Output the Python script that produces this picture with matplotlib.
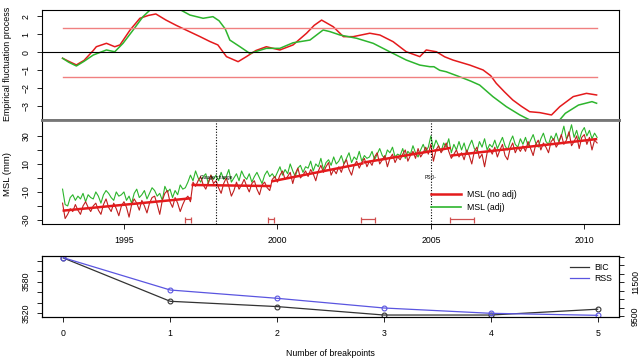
import numpy as np
import matplotlib.pyplot as plt

plt.rcParams['font.family'] = ['Liberation Sans', 'DejaVu Sans']
plt.rcParams['font.size'] = 6.3

# ---- top panel: empirical fluctuation processes ----
efp_noadj_t = [1993.0, 1993.2, 1993.45, 1993.7, 1994.0, 1994.1, 1994.43, 1994.7, 1994.87,
               1995.2, 1995.52, 1995.8, 1996.04, 1996.37, 1996.7, 1997.02, 1997.48, 1997.8,
               1998.06, 1998.34, 1998.72, 1998.99, 1999.3, 1999.64, 2000.08, 2000.51, 2000.95,
               2001.2, 2001.44, 2001.82, 2002.15, 2002.47, 2003.01, 2003.34, 2003.77, 2004.2,
               2004.64, 2004.85, 2005.18, 2005.45, 2005.72, 2006.27, 2006.7, 2006.95, 2007.13,
               2007.4, 2007.67, 2007.95, 2008.22, 2008.55, 2008.93, 2009.2, 2009.64, 2010.07, 2010.4]
efp_noadj_v = [-0.33, -0.5, -0.70, -0.45, 0.1, 0.31, 0.5, 0.31, 0.41,
               1.24, 1.89, 2.05, 2.13, 1.79, 1.5, 1.24, 0.87, 0.6,
               0.41, -0.24, -0.52, -0.24, 0.1, 0.31, 0.13, 0.41, 1.06,
               1.5, 1.79, 1.42, 0.87, 0.87, 1.06, 0.96, 0.59, 0.03,
               -0.24, 0.13, 0.03, -0.25, -0.43, -0.71, -0.98, -1.3, -1.72,
               -2.2, -2.65, -3.0, -3.3, -3.35, -3.48, -3.02, -2.46, -2.28, -2.37]

efp_adj_t = [1993.0, 1993.2, 1993.45, 1993.7, 1994.0, 1994.43, 1994.7, 1994.97, 1995.3,
             1995.62, 1995.85, 1996.1, 1996.4, 1996.7, 1996.85, 1997.15, 1997.58, 1997.9,
             1998.1, 1998.3, 1998.45, 1998.78, 1999.1, 1999.64, 2000.08, 2000.51, 2001.06,
             2001.49, 2001.71, 2002.04, 2002.58, 2003.12, 2003.66, 2004.2, 2004.64, 2004.97,
             2005.1, 2005.29, 2005.5, 2005.94, 2006.3, 2006.59, 2007.02, 2007.46, 2007.9,
             2008.12, 2008.4, 2008.8, 2009.15, 2009.38, 2009.81, 2010.25, 2010.4]
efp_adj_v = [-0.33, -0.55, -0.76, -0.5, -0.15, 0.13, 0.03, 0.5, 1.24,
             1.98, 2.35, 2.5, 2.6, 2.45, 2.35, 2.07, 1.89, 1.98,
             1.75, 1.3, 0.68, 0.31, -0.06, 0.22, 0.22, 0.53, 0.68,
             1.24, 1.15, 0.96, 0.78, 0.5, 0.03, -0.43, -0.71, -0.8,
             -0.8, -1.0, -1.08, -1.36, -1.6, -1.82, -2.46, -3.02, -3.48,
             -3.67, -3.9, -3.95, -3.85, -3.39, -2.93, -2.74, -2.83]

boundary = 1.358

# ---- middle panel: monthly MSL (mm), starting Jan 1993 ----
start_year = 1993.0
msl_noadj = [
    -18, -29, -26, -22, -24, -19, -23, -26, -20, -17, -21, -24,   # 1993
    -20, -18, -23, -26, -19, -15, -21, -24, -18, -22, -27, -20,   # 1994
    -17, -21, -28, -19, -15, -18, -23, -16, -20, -25, -18, -14,   # 1995
    -13, -19, -26, -16, -11, -9, -17, -21, -14, -18, -24, -19,    # 1996
    -15, -13, -17, -3, -6, -2, 1, -5, -8, -3, 2, -4,              # 1997
    -2, -7, -11, -4, 0, -6, -13, -9, -3, -8, -5, -1,              # 1998
    -6, -10, -4, -2, -8, -12, -5, -3, -7, -9, -1, 1,              # 1999
    -3, 2, 5, -1, 1, 4, -4, 3, 7, 0, 2, 5,                        # 2000
    1, 6, 3, -2, 5, 9, 4, 8, 11, 2, 6, 3,                         # 2001
    8, 4, 10, 13, 6, 2, 9, 12, 7, 11, 14, 8,                      # 2002
    12, 9, 15, 18, 10, 13, 16, 8, 14, 17, 11, 15,                 # 2003
    13, 17, 20, 12, 16, 19, 14, 21, 15, 18, 22, 17,               # 2004
    24, 12, 20, 23, 18, 21, 25, 19, 14, 17, 20, 15,               # 2005
    18, 13, 20, 16, 10, 19, 22, 14, 17, 8, 18, 21,                # 2006
    17, 22, 15, 20, 24, 16, 13, 21, 25, 18, 22, 19,               # 2007
    23, 19, 26, 21, 16, 24, 27, 20, 25, 22, 18, 26,               # 2008
    28, 22, 25, 31, 24, 27, 33, 23, 26, 30, 21, 29,               # 2009
    31, 24, 29, 20, 27, 25,                                       # 2010
]
msl_adj = [
    -8, -19, -20, -14, -12, -16, -13, -15, -11, -17, -12, -14,    # 1993
    -15, -10, -13, -18, -12, -9, -11, -14, -16, -10, -13, -12,    # 1994
    -10, -16, -13, -18, -11, -8, -14, -12, -9, -15, -11, -7,      # 1995
    -9, -13, -11, -16, -6, -10, -8, -14, -9, -12, -5, -8,         # 1996
    -7, -3, 2, -2, 5, 0, -3, 1, 3, -4, 2, -1,                     # 1997
    2, -2, 4, -1, 1, 6, -3, 0, 3, -2, 5, 1,                       # 1998
    -1, 3, -3, 1, 4, 0, -4, 2, 5, 1, 3, 0,                        # 1999
    4, 8, 2, 6, 3, 10, 5, 1, 7, 9, 4, 8,                          # 2000
    7, 12, 5, 10, 8, 14, 6, 11, 13, 9, 15, 10,                    # 2001
    12, 16, 10, 14, 18, 11, 15, 13, 19, 12, 16, 14,               # 2002
    15, 19, 13, 17, 21, 16, 14, 20, 18, 22, 15, 17,               # 2003
    16, 21, 14, 19, 17, 23, 18, 15, 20, 24, 19, 22,               # 2004
    30, 21, 27, 23, 19, 25, 22, 28, 18, 24, 20, 26,               # 2005
    20, 25, 18, 23, 27, 21, 19, 26, 22, 28, 20, 24,               # 2006
    22, 27, 21, 25, 29, 23, 20, 26, 30, 24, 22, 28,               # 2007
    24, 29, 23, 27, 31, 25, 22, 28, 32, 26, 24, 30,               # 2008
    27, 32, 26, 30, 37, 28, 31, 38, 29, 34, 27, 33,               # 2009
    36, 30, 34, 28, 32, 29,                                       # 2010
]

# fitted segments (start year, end year, start value, end value)
fit_start = [1993.0, 1997.2, 1999.8, 2002.8, 2005.65]
fit_end = [1997.2, 1999.8, 2002.8, 2005.65, 2010.42]
fit_from = [-23.4, -5.0, -2.5, 11.0, 16.0]
fit_to = [-14.5, -5.8, 10.5, 21.5, 27.8]

# breakpoint confidence intervals
ci_lower = [1997.0, 1999.7, 2002.72, 2005.63]
ci_upper = [1997.2, 1999.9, 2003.18, 2006.4]
ci_level = -29.6

events = [1998.0, 2005.0]
event_labels = ['Gauge change', 'PSO-']

# ---- bottom panel: model selection ----
n_breaks = [0, 1, 2, 3, 4, 5]
bic = [3625, 3543, 3533, 3517, 3517, 3528]
rss = [12958, 11042, 10550, 9975, 9660, 9540]

RED = '#e41a1c'
DARKRED = '#c01e1e'
GREEN = '#2db52d'
BLUE = '#5a55e0'
GRAY = '#777777'
CI_RED = '#d05050'

fig = plt.figure(figsize=(6.4, 3.6), dpi=100)
L, W = 42 / 640, 577 / 640
ax1 = fig.add_axes([L, 1 - 120 / 360, W, 110 / 360])
ax2 = fig.add_axes([L, 1 - 224 / 360, W, 104 / 360])
ax3 = fig.add_axes([L, 1 - 317.3 / 360, W, 61.6 / 360])

xlim = (1992.33, 2011.13)

# top
ax1.plot(efp_noadj_t, efp_noadj_v, color=RED, lw=1.1)
ax1.plot(efp_adj_t, efp_adj_v, color=GREEN, lw=1.1)
ax1.plot([efp_noadj_t[0], efp_noadj_t[-1]], [boundary, boundary], color='#f08080', lw=1.0)
ax1.plot([efp_noadj_t[0], efp_noadj_t[-1]], [-boundary, -boundary], color='#f08080', lw=1.0)
ax1.axhline(0, color='black', lw=0.8)
ax1.set_xlim(xlim)
ax1.set_ylim(-3.76, 2.35)
ax1.set_yticks([-3, -2, -1, 0, 1, 2])
ax1.set_xticks([])
ax1.spines['bottom'].set_color(GRAY)
ax1.spines['bottom'].set_linewidth(2)

# middle
msl_t = start_year + np.arange(len(msl_noadj)) / 12
ax2.plot(msl_t, msl_adj, color=GREEN, lw=0.8)
ax2.plot(msl_t, msl_noadj, color=DARKRED, lw=0.8)
for s, e, a, b in zip(fit_start, fit_end, fit_from, fit_to):
    ax2.plot([s, e], [a, b], color=RED, lw=1.8, solid_capstyle='butt')
ax2.hlines([ci_level] * len(ci_lower), ci_lower, ci_upper, color=CI_RED, lw=0.9)
ax2.vlines(ci_lower + ci_upper, ci_level - 2.5, ci_level + 1.5, color=CI_RED, lw=0.9)
for ev, lab in zip(events, event_labels):
    ax2.axvline(ev, color='black', lw=0.8, ls=(0, (1, 1.5)))
    ax2.text(ev, 0.5, lab, fontsize=3.5, ha='center', va='center')
ax2.set_xlim(xlim)
ax2.set_ylim(-32.9, 41.4)
ax2.set_yticks([-30, -20, -10, 0, 10, 20, 30])
ax2.set_yticklabels(['-30', '', '-10', '', '10', '', '30'])
ax2.set_xticks([1995, 2000, 2005, 2010])
ax2.spines['top'].set_color(GRAY)
ax2.spines['top'].set_linewidth(2)
h1, = ax2.plot([], [], color=RED, lw=1.8)
h2, = ax2.plot([], [], color=GREEN, lw=1.2)
ax2.legend([h1, h2], ['MSL (no adj)', 'MSL (adj)'], loc='upper left',
           bbox_to_anchor=(0.66, 0.40), frameon=False, handlelength=3.5,
           handletextpad=0.6, labelspacing=0.45, fontsize=6.3)

# bottom
ax3.plot(n_breaks, bic, color='#333333', lw=0.9, marker='o', ms=3.5,
         mfc='none', mew=0.8)
ax3.set_xlim(-0.2, 5.2)
ax3.set_ylim(3512.7, 3629.3)
ax3.set_xticks(n_breaks)
ax3.set_yticks([3520, 3540, 3560, 3580, 3600, 3620])
ax3.set_yticklabels(['3520', '', '', '3580', '', ''])
ax3r = ax3.twinx()
ax3r.plot(n_breaks, rss, color=BLUE, lw=0.9, marker='o', ms=3.5,
          mfc='none', mew=0.8)
ax3r.set_ylim(9423, 13077)
ax3r.set_yticks(np.arange(9500, 13001, 500))
ax3r.set_yticklabels(['9500', '', '', '', '11500', '', '', ''])
h3, = ax3.plot([], [], color='#333333', lw=0.9)
h4, = ax3.plot([], [], color=BLUE, lw=0.9)
ax3.legend([h3, h4], ['BIC', 'RSS'], loc='upper right', frameon=False,
           handlelength=2.2, handletextpad=0.6, labelspacing=0.25,
           borderaxespad=0.4, fontsize=6.3)
ax3.set_xlabel('Number of breakpoints', fontsize=6.3, labelpad=8)

for ax in (ax1, ax2, ax3, ax3r):
    ax.tick_params(length=3.5, width=0.6, pad=5, labelsize=6.3)
    for sp in ('left', 'right', 'top', 'bottom'):
        if ax.spines[sp].get_linewidth() < 1.5:
            ax.spines[sp].set_linewidth(0.8)
for ax in (ax1, ax2, ax3, ax3r):
    for lab in ax.get_yticklabels():
        lab.set_rotation(90)
        lab.set_va('center')

fig.text(8 / 640, 1 - 64 / 360, 'Empirical fluctuation process', rotation=90,
         ha='center', va='center', fontsize=6.4)
fig.text(8 / 640, 1 - 174 / 360, 'MSL (mm)', rotation=90,
         ha='center', va='center', fontsize=6.8)

fig.savefig('out.png', dpi=100)
